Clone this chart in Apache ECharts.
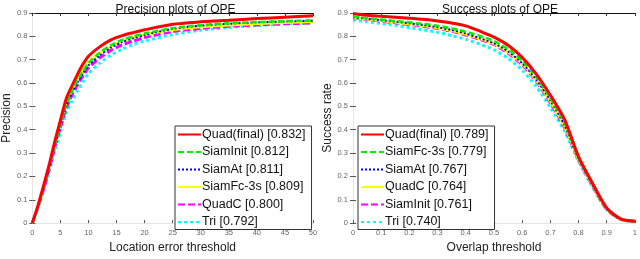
<!DOCTYPE html>
<html><head><meta charset="utf-8">
<script src="https://cdn.jsdelivr.net/npm/echarts@6/dist/echarts.min.js"></script>
<style>html,body{margin:0;padding:0;background:#fff}#c{width:640px;height:259px}</style>
</head><body><div id="c"></div>
<script>
// Precision plot (left)
const precThresholds = [0,1,2,3,4,5,6,7,8,9,10,12,14,16,18,20,25,30,35,40,45,50];
const precQuadFinal = [0,0.075,0.16,0.25,0.35,0.44,0.53,0.585,0.635,0.68,0.715,0.755,0.785,0.803,0.816,0.828,0.852,0.862,0.869,0.876,0.882,0.888];
const precSiamInit  = [0,0.07,0.15,0.24,0.335,0.42,0.505,0.56,0.61,0.65,0.685,0.73,0.762,0.785,0.80,0.812,0.835,0.848,0.856,0.861,0.865,0.868];
const precSiamAt    = [0,0.07,0.15,0.235,0.33,0.415,0.5,0.555,0.6,0.64,0.675,0.718,0.752,0.775,0.792,0.806,0.832,0.846,0.854,0.86,0.864,0.867];
const precSiamFc3s  = [0,0.072,0.155,0.245,0.34,0.425,0.51,0.565,0.615,0.655,0.69,0.73,0.758,0.78,0.795,0.807,0.828,0.84,0.848,0.854,0.858,0.862];
const precQuadC     = [0,0.068,0.145,0.23,0.325,0.41,0.49,0.545,0.59,0.63,0.665,0.707,0.74,0.763,0.78,0.795,0.82,0.834,0.843,0.849,0.854,0.857];
const precTri       = [0,0.065,0.14,0.22,0.31,0.39,0.47,0.52,0.565,0.605,0.64,0.685,0.72,0.745,0.765,0.78,0.808,0.826,0.838,0.846,0.853,0.858];
const precLegend = ['Quad(final) [0.832]','SiamInit [0.812]','SiamAt [0.811]','SiamFc-3s [0.809]','QuadC [0.800]','Tri [0.792]'];

// Success plot (right)
const succThresholds = [0,0.05,0.1,0.15,0.2,0.25,0.3,0.35,0.4,0.45,0.5,0.55,0.6,0.65,0.7,0.75,0.8,0.85,0.9,0.95,1];
const succQuadFinal = [0.898,0.89,0.886,0.882,0.878,0.873,0.866,0.857,0.845,0.822,0.797,0.762,0.71,0.638,0.548,0.445,0.285,0.17,0.065,0.018,0.008];
const succSiamFc3s  = [0.885,0.878,0.872,0.866,0.86,0.853,0.845,0.834,0.82,0.802,0.78,0.745,0.695,0.625,0.535,0.43,0.28,0.165,0.062,0.017,0.007];
const succSiamAt    = [0.882,0.875,0.869,0.863,0.856,0.848,0.839,0.827,0.812,0.792,0.77,0.735,0.685,0.615,0.525,0.42,0.275,0.162,0.06,0.016,0.007];
const succQuadC     = [0.88,0.873,0.867,0.86,0.853,0.845,0.836,0.824,0.809,0.79,0.768,0.732,0.682,0.612,0.52,0.415,0.273,0.16,0.06,0.016,0.007];
const succSiamInit  = [0.88,0.872,0.865,0.858,0.851,0.843,0.834,0.822,0.806,0.787,0.765,0.728,0.678,0.608,0.515,0.41,0.27,0.158,0.059,0.016,0.007];
const succTri       = [0.87,0.862,0.855,0.847,0.838,0.828,0.817,0.803,0.787,0.767,0.742,0.706,0.655,0.585,0.495,0.395,0.265,0.155,0.058,0.015,0.006];
const succLegend = ['Quad(final) [0.789]','SiamFc-3s [0.779]','SiamAt [0.767]','QuadC [0.764]','SiamInit [0.761]','Tri [0.740]'];

// styles by rank (legend position)
const rankStyles = [
  {color:'#ff0000', width:3, type:'solid', z:10},
  {color:'#00ee00', width:2.5, type:[6,3], z:8},
  {color:'#0000ff', width:2, type:[2,2], z:7},
  {color:'#ffff00', width:2.5, type:'solid', z:6},
  {color:'#ff00ff', width:3, type:[7,3], z:5},
  {color:'#00ffff', width:3, type:[3,3], z:4}
];
function mk(name, xs, ys, rank, axisIdx){
  const s = rankStyles[rank];
  return {
    type:'line', name:name, xAxisIndex:axisIdx, yAxisIndex:axisIdx,
    data: xs.map((x,i)=>[x, ys[i]]),
    showSymbol:false, symbol:'none', z:s.z, silent:true, smooth:0.25,
    lineStyle:{color:s.color, width:s.width, type:s.type},
    itemStyle:{color:s.color}
  };
}
const FONT = 'Liberation Sans, Arial, sans-serif';
const grids = [
  {left:28, width:285, top:13, height:217.5},
  {left:353, width:284, top:13, height:217.5}
];
function xAxes(idx, max, interval, name){
  return [
    {type:'value', gridIndex:idx, min:0, max:max, interval:interval, position:'bottom',
     name:name, nameLocation:'middle', nameGap:14,
     nameTextStyle:{fontFamily:FONT, fontSize:12, color:'#222'},
     axisLine:{show:true, lineStyle:{color:'#e4e4e4', width:1}},
     axisTick:{show:true, inside:true, length:3, lineStyle:{color:'#555'}},
     axisLabel:{fontFamily:FONT, fontSize:7.5, color:'#666', margin:6},
     splitLine:{show:false}},
    {type:'value', gridIndex:idx, min:0, max:max, interval:interval, position:'top',
     axisLine:{show:true, onZero:false, lineStyle:{color:'#111', width:1}},
     axisTick:{show:true, inside:true, length:3, lineStyle:{color:'#333'}},
     axisLabel:{show:false}, splitLine:{show:false}}
  ];
}
function yAxes(idx, name){
  return [
    {type:'value', gridIndex:idx, min:0, max:0.9, interval:0.1, position:'left',
     name:name, nameLocation:'middle', nameGap:17,
     nameTextStyle:{fontFamily:FONT, fontSize:12, color:'#222'},
     axisLine:{show:true, lineStyle:{color:'#e4e4e4', width:1}},
     axisTick:{show:true, inside:true, length:3, lineStyle:{color:'#555'}},
     axisLabel:{fontFamily:FONT, fontSize:7.5, color:'#666', margin:5},
     splitLine:{show:false}},
    {type:'value', gridIndex:idx, min:0, max:0.9, interval:0.1, position:'right',
     axisLine:{show:true, lineStyle:{color:'#e4e4e4', width:1}},
     axisTick:{show:true, inside:true, length:3, lineStyle:{color:'#555'}},
     axisLabel:{show:false}, splitLine:{show:false}}
  ];
}
const xa = [...xAxes(0, 50, 5, 'Location error threshold'), ...xAxes(1, 1, 0.1, 'Overlap threshold')];
const ya = [...yAxes(0, 'Precision'), ...yAxes(1, 'Success rate')];
function series(){
  const out = [];
  const pl = [precQuadFinal, precSiamInit, precSiamAt, precSiamFc3s, precQuadC, precTri];
  precLegend.forEach((n,i)=>{ out.push(mk(n, precThresholds, pl[i], i, 0)); });
  const sl = [succQuadFinal, succSiamFc3s, succSiamAt, succQuadC, succSiamInit, succTri];
  succLegend.forEach((n,i)=>{ out.push(mk(n, succThresholds, sl[i], i, 2)); });
  return out;
}
function legend(left, data){
  return {
    left:left, top:126, orient:'vertical', data:data,
    backgroundColor:'#fff', borderColor:'#333', borderWidth:1,
    padding:[2,6,1,2], itemWidth:23, itemHeight:12, itemGap:4.5,
    itemStyle:{opacity:0, borderWidth:0},
    textStyle:{fontFamily:FONT, fontSize:12.5, color:'#111', padding:[0,0,0,-4]},
    selectedMode:false
  };
}
const chart = echarts.init(document.getElementById('c'), null, {renderer:'canvas'});
chart.setOption({
  animation:false,
  backgroundColor:'#fff',
  title:[
    {text:'Precision plots of OPE', left:170.5, textAlign:'center', top:-1,
     textStyle:{fontFamily:FONT, fontSize:12, fontWeight:'normal', color:'#111'}},
    {text:'Success plots of OPE', left:495, textAlign:'center', top:-1,
     textStyle:{fontFamily:FONT, fontSize:12, fontWeight:'normal', color:'#111'}}
  ],
  grid: grids,
  xAxis: xa,
  yAxis: ya,
  legend:[legend(175, precLegend), legend(358, succLegend)],
  series: series()
});
</script></body></html>
